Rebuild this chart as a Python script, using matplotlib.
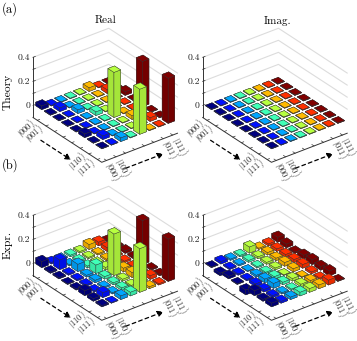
import numpy as np
import matplotlib
matplotlib.use('Agg')
import matplotlib.pyplot as plt
from mpl_toolkits.mplot3d import proj3d

plt.rcParams['font.family'] = ['cmr10', 'DejaVu Sans']
plt.rcParams['mathtext.fontset'] = 'cm'
plt.rcParams['axes.formatter.use_mathtext'] = True

z_ticks = [0, 0.2, 0.4]
z_tick_labels = ['0', '0.2', '0.4']
kets_left = ['|000\\rangle', '|001\\rangle', '|110\\rangle', '|111\\rangle']
kets_left_pos = [0, 1, 6, 7]
kets_right = ['|000\\rangle', '|100\\rangle', '|011\\rangle', '|111\\rangle']
kets_right_pos = [0, 1, 6, 7]

theory_real = [
    [.030, .004, .004, .004, .004, .030, .004, .004],
    [.004, .030, .004, .004, .004, .004, .030, .004],
    [.004, .004, .030, .004, .004, .004, .004, .030],
    [.004, .004, .004, .030, .004, .004, .004, .004],
    [.004, .004, .004, .004, .375, .004, .004, .375],
    [.030, .004, .004, .004, .004, .030, .004, .004],
    [.004, .030, .004, .004, .004, .004, .030, .004],
    [.004, .004, .030, .004, .375, .004, .004, .375],
]
theory_imag = [[.004] * 8 for _ in range(8)]
expr_real = [
    [.050, .012, .010, .012, .012, .040, .030, .010],
    [.010, .080, .010, .012, .010, .010, .030, .010],
    [.010, .010, .060, .015, .010, .012, .010, .020],
    [.005, .010, .015, .070, .020, .020, .012, .015],
    [.010, .012, .020, .020, .345, .030, .012, .366],
    [.040, .010, .010, .015, .015, .040, .010, .010],
    [.020, .040, .010, .020, .010, .010, .030, .010],
    [.010, .005, .030, .030, .363, .015, .010, .352],
]
expr_imag = [
    [.005, .020, .010, .010, .050, .010, .015, .040],
    [-.020, .010, .010, .015, .015, .020, .020, .030],
    [.020, .010, .005, .010, .015, .020, .020, .010],
    [.005, .010, .015, .010, .015, .030, .025, .030],
    [-.040, .020, .030, .020, .005, .025, .030, .040],
    [.040, .020, .040, .020, .020, .005, .015, .030],
    [.015, .015, .010, .010, .020, .020, .010, .040],
    [.030, .015, .020, .030, .030, .030, .040, .005],
]

W, H = 357, 341
fig = plt.figure(figsize=(W / 100, H / 100), dpi=100)
cmap = matplotlib.colormaps['jet']


def corners(ax, xs, ys, zs):
    x2, y2, _ = proj3d.proj_transform(np.array(xs, float), np.array(ys, float), np.array(zs, float), ax.get_proj())
    return ax.transData.transform(np.column_stack([x2, y2]))


def to2d(ax, x, y, z):
    x2, y2, _ = proj3d.proj_transform(np.array([x], float), np.array([y], float), np.array([z], float), ax.get_proj())
    return x2[0], y2[0]


def panel(data, left, floor_y):
    ax = fig.add_axes([0, 0, 200 / W, 200 / H], projection='3d', proj_type='ortho')
    ax.computed_zorder = False
    ax.patch.set_alpha(0)
    ax.view_init(elev=30, azim=-37.5)
    ax.set_box_aspect((112.6, 95.2, 69.3))
    ax.set_axis_off()

    zo = 5
    for i in range(8):
        for j in range(7, -1, -1):
            v = data[i][j]
            col = np.array(cmap(j / 7))
            side = col.copy()
            side[:3] *= 0.9
            faces = [side, col, side, side, side, side]
            ax.bar3d(i + .15, j + .15, min(v, 0), .7, .7, abs(v), color=faces, shade=False,
                     edgecolor='#333333', linewidth=.28, zorder=zo)
            zo += 1

    # paredes do fundo
    for z in [.1, .2, .3, .4]:
        ax.plot([0, 0, 8], [0, 8, 8], [z, z, z], color='#dcdcdc', lw=.8, zorder=1)
    dark = '#333333'
    ax.plot([0, 0], [0, 0], [-.1, .4], color=dark, lw=.7, zorder=2)
    ax.plot([0, 8, 8], [0, 0, 8], [-.1, -.1, -.1], color=dark, lw=.7, zorder=2)
    for k in range(8):
        ax.plot([k + .5, k + .5], [0, .25], [-.1, -.1], color=dark, lw=.5, zorder=2)
        ax.plot([8, 7.75], [k + .5, k + .5], [-.1, -.1], color=dark, lw=.5, zorder=2)
    for z in [0, .1, .2, .3, .4]:
        ax.plot([0, 0], [0, .25], [z, z], color=dark, lw=.5, zorder=2)

    ax.set_xlim(0, 8)
    ax.set_ylim(0, 8)
    ax.set_zlim(-.1, .4)

    # acerta tamanho e posicao em pixels
    size = 200.0
    for _ in range(2):
        p = corners(ax, [0, 8], [0, 0], [-.1, -.1])
        size *= np.hypot(68.6, 45) / np.hypot(*(p[1] - p[0]))
        ax.set_position([0, 0, size / W, size / H])
    p = corners(ax, [0], [0], [-.1])[0]
    ax.set_position([(left - p[0]) / W, (H - floor_y - p[1]) / H, size / W, size / H])

    for z, lab in zip(z_ticks, z_tick_labels):
        ax.annotate(lab, xy=to2d(ax, 0, 0, z), xytext=(-3, 0), textcoords='offset pixels',
                    ha='right', va='center', fontsize=7, color='#222222')
    for k, lab in zip(kets_left_pos, kets_left):
        ax.annotate('$' + lab + '$', xy=to2d(ax, k + .5, 0, -.1), xytext=(-4, -1), textcoords='offset pixels',
                    ha='right', va='center', fontsize=6.1, rotation=42, rotation_mode='anchor', color='#222222')
    for k, lab in zip(kets_right_pos, kets_right):
        ax.annotate('$' + lab + '$', xy=to2d(ax, 8, k + .5, -.1), xytext=(2, -2), textcoords='offset pixels',
                    ha='left', va='center', fontsize=6.1, rotation=-63, rotation_mode='anchor', color='#222222')

    arrow = dict(arrowstyle='-|>,head_width=.18,head_length=.35', linestyle=(0, (3, 2.5)), color='black', lw=.9,
                 shrinkA=0, shrinkB=0)
    ax.annotate('', xy=to2d(ax, 6.4, -1.8, -.1), xytext=to2d(ax, 2.9, -1.8, -.1), arrowprops=arrow)
    ax.annotate('', xy=to2d(ax, 9.7, 5, -.1), xytext=to2d(ax, 9.7, 1, -.1), arrowprops=arrow)
    return ax


panel(theory_real, 33, 117.5)
panel(theory_imag, 202.7, 117.5)
panel(expr_real, 33, 275.5)
panel(expr_imag, 202.7, 275.5)


def label(x, y, s, **kw):
    fig.text(x / W, 1 - y / H, s, ha='center', va='center', **kw)


label(10, 9, '(a)', fontsize=9)
label(10, 165, '(b)', fontsize=9)
label(106, 20.5, 'Real', fontsize=8)
label(278, 20.5, 'Imag.', fontsize=8)
label(8, 92, 'Theory', fontsize=8.3, rotation=90)
label(8, 245, 'Expr.', fontsize=8.3, rotation=90)

fig.savefig('out.png', dpi=100)
